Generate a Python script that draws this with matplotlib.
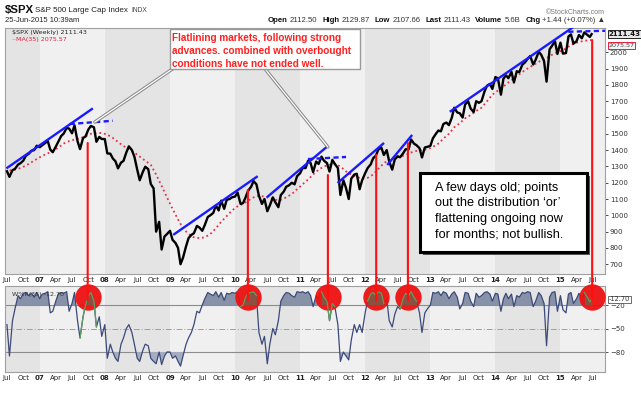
import matplotlib
matplotlib.use("Agg")
import matplotlib.dates as mdates
import matplotlib.pyplot as plt
import numpy as np
import pandas as pd
from matplotlib.patches import ConnectionPatch, Rectangle

W, H = 641, 395  # output size in pixels (dpi 100)

spx_2006 = [1270, 1236, 1277, 1285, 1311, 1320, 1336, 1365, 1378, 1396, 1400, 1427]
spx_2007 = [1418, 1430, 1445, 1456, 1403, 1387, 1421, 1452, 1486, 1501, 1536, 1532,
            1503, 1552, 1455, 1406, 1474, 1484, 1527, 1548, 1540, 1451, 1481, 1468]
spx_2008 = [1468, 1380, 1378, 1349, 1331, 1288, 1323, 1334, 1386, 1423, 1400, 1360,
            1280, 1215, 1265, 1298, 1283, 1192, 1165, 900, 960, 790, 870, 885]
spx_2009 = [905, 850, 830, 800, 700, 740, 810, 860, 880, 890, 935, 925,
            905, 940, 990, 1000, 1015, 1060, 1030, 1090, 1040, 1095, 1100, 1110]
spx_2010 = [1115, 1140, 1070, 1075, 1110, 1150, 1175, 1210, 1190, 1120, 1070, 1100,
            1025, 1060, 1110, 1080, 1050, 1125, 1145, 1175, 1185, 1200, 1190, 1240]
spx_2011 = [1258, 1290, 1290, 1335, 1320, 1265, 1330, 1315, 1360, 1335, 1320, 1268,
            1340, 1315, 1290, 1125, 1215, 1170, 1100, 1225, 1250, 1255, 1160, 1215]
spx_2012 = [1258, 1290, 1312, 1350, 1366, 1403, 1415, 1370, 1400, 1330, 1280, 1342,
            1362, 1356, 1380, 1405, 1406, 1465, 1440, 1430, 1412, 1355, 1416, 1420]
spx_2013 = [1426, 1472, 1500, 1520, 1515, 1560, 1569, 1553, 1598, 1660, 1631, 1626,
            1600, 1680, 1700, 1655, 1633, 1700, 1690, 1700, 1760, 1795, 1806, 1775]
spx_2014 = [1848, 1840, 1740, 1838, 1859, 1841, 1880, 1815, 1884, 1878, 1924, 1937,
            1960, 1977, 1925, 1955, 2003, 1985, 1946, 1820, 2018, 2040, 2068, 1990]
spx_2015 = [2059, 1992, 1995, 2097, 2110, 2053, 2068, 2106, 2086, 2122, 2107, 2094]
spx_last = 2111.43

# Williams %R(35), same sampling
wr_2006 = [-45, -85, -40, -25, -8, -12, -5, -4, -8, -5, -10, -4]
wr_2007 = [-12, -6, -5, -3, -30, -28, -15, -6, -4, -5, -3, -28,
           -18, -4, -40, -62, -35, -20, -8, -4, -15, -48, -35, -60]
wr_2008 = [-45, -88, -70, -80, -88, -92, -70, -62, -50, -45, -55, -70,
           -88, -92, -78, -70, -72, -88, -92, -95, -80, -96, -85, -80]
wr_2009 = [-80, -88, -85, -92, -98, -85, -70, -62, -55, -45, -28, -30,
           -20, -12, -4, -6, -8, -3, -10, -4, -14, -5, -6, -4]
wr_2010 = [-5, -3, -22, -20, -10, -5, -4, -3, -8, -55, -70, -60,
           -95, -70, -50, -58, -40, -15, -8, -4, -5, -8, -10, -3]
wr_2011 = [-4, -3, -5, -3, -8, -22, -8, -12, -3, -10, -15, -40,
           -18, -22, -45, -92, -80, -85, -90, -65, -45, -55, -45, -55]
wr_2012 = [-30, -15, -6, -4, -8, -3, -5, -18, -12, -40, -48, -32,
           -22, -25, -12, -5, -8, -3, -10, -15, -30, -55, -30, -25]
wr_2013 = [-20, -4, -5, -3, -8, -3, -5, -12, -6, -3, -10, -25,
           -18, -4, -5, -15, -22, -5, -10, -8, -4, -3, -6, -15]
wr_2014 = [-5, -6, -28, -12, -5, -12, -6, -22, -8, -10, -4, -5,
           -3, -4, -22, -15, -4, -8, -18, -72, -10, -4, -3, -28]
wr_2015 = [-8, -26, -30, -6, -4, -18, -12, -5, -12, -4, -10, -16]
wr_last = -12.70

# MA(35) read mid-month, Jul 2006 - Jun 2015
ma_2006 = [1275, 1280, 1290, 1305, 1325, 1345]
ma_2007 = [1365, 1380, 1395, 1415, 1440, 1455, 1465, 1472, 1485, 1500, 1505, 1505]
ma_2008 = [1495, 1475, 1450, 1425, 1405, 1385, 1360, 1335, 1310, 1250, 1180, 1110]
ma_2009 = [1040, 975, 920, 885, 865, 860, 865, 885, 920, 960, 995, 1030]
ma_2010 = [1055, 1070, 1090, 1110, 1120, 1115, 1105, 1095, 1095, 1110, 1130, 1160]
ma_2011 = [1190, 1220, 1250, 1280, 1300, 1310, 1315, 1300, 1270, 1250, 1235, 1225]
ma_2012 = [1230, 1250, 1285, 1320, 1340, 1350, 1360, 1370, 1385, 1395, 1400, 1405]
ma_2013 = [1420, 1440, 1470, 1500, 1540, 1565, 1595, 1615, 1640, 1660, 1700, 1740]
ma_2014 = [1765, 1790, 1815, 1840, 1865, 1890, 1910, 1930, 1950, 1965, 1985, 2000]
ma_2015 = [2012, 2035, 2052, 2063, 2071, 2074]
ma_last = 2075.57

# hand-drawn trend lines: (start date, start price, end date, end price)
trend_solid = [
    ("2006-06-28", 1288, "2007-10-26", 1656),
    ("2009-01-19", 880, "2010-05-08", 1240),
    ("2010-06-28", 1110, "2011-06-01", 1421),
    ("2011-07-30", 1198, "2012-04-16", 1444),
    ("2012-05-04", 1309, "2012-09-21", 1493),
    ("2013-04-20", 1635, "2015-03-14", 2155),
]
trend_flat = [
    ("2007-06-18", 1560, "2008-02-14", 1580),
    ("2011-02-14", 1345, "2011-09-16", 1358),
    ("2015-02-14", 2126, "2015-09-08", 2132),
]

# red signal markers: date, price where the line starts
signal_dates = ["2007-09-27", "2010-03-14", "2011-06-06", "2012-03-03", "2012-08-28", "2015-06-28"]
signal_tops = [1444, 1155, 1247, 1370, 1443, 2075]
signal_level = -10

callout_red = "Flatlining markets, following strong\nadvances. combined with overbought\nconditions have not ended well."
callout_tips = [("2007-11-06", 1572), ("2011-06-06", 1419)]
callout_black = "A few days old; points\nout the distribution \u2018or\u2019\nflattening ongoing now\nfor months; not bullish."

dates = pd.date_range("2006-07-01", "2015-06-15", freq="SMS").append(pd.DatetimeIndex(["2015-06-25"]))
spx = np.array(spx_2006 + spx_2007 + spx_2008 + spx_2009 + spx_2010 + spx_2011
               + spx_2012 + spx_2013 + spx_2014 + spx_2015 + [spx_last])
wr = np.array(wr_2006 + wr_2007 + wr_2008 + wr_2009 + wr_2010 + wr_2011
              + wr_2012 + wr_2013 + wr_2014 + wr_2015 + [wr_last], dtype=float)
ma_dates = (pd.date_range("2006-07-01", "2015-06-01", freq="MS") + pd.Timedelta(days=14)).append(
    pd.DatetimeIndex(["2015-06-25"]))
ma = np.array(ma_2006 + ma_2007 + ma_2008 + ma_2009 + ma_2010 + ma_2011
              + ma_2012 + ma_2013 + ma_2014 + ma_2015 + [ma_last])

x0, x1 = pd.Timestamp("2006-06-20"), pd.Timestamp("2015-09-08")
quarters = pd.date_range("2006-07-01", "2015-07-01", freq="QS-JAN")
qlabels = [d.strftime("%y") if d.month == 1 else d.strftime("%b") for d in quarters]

fig = plt.figure(figsize=(W / 100, H / 100), dpi=100)
fig.patch.set_facecolor("white")
ax = fig.add_axes([5 / W, 1 - 274 / H, 600 / W, 246 / H])
ax2 = fig.add_axes([5 / W, 1 - 372 / H, 600 / W, 86 / H])

for a in (ax, ax2):
    a.set_xlim(x0, x1)
    a.set_facecolor("#f0f0f0")
    for yr in range(2006, 2016, 2):
        a.axvspan(pd.Timestamp(f"{yr}-01-01"), pd.Timestamp(f"{yr + 1}-01-01"), color="#e4e4e4", lw=0, zorder=0)
    a.set_xticks(quarters)
    a.set_xticklabels(qlabels)
    for lbl, d in zip(a.get_xticklabels(), quarters):
        if d.month == 1:
            lbl.set_fontweight("bold")
    a.tick_params(axis="x", length=0, pad=2, labelsize=5, colors="#222222")
    a.yaxis.tick_right()
    a.tick_params(axis="y", length=2, width=0.6, pad=1.5, labelsize=5, colors="#333333")
    for s in a.spines.values():
        s.set_color("#a0a0a0")
        s.set_linewidth(0.8)

# ---- price panel
ax.set_ylim(640, 2149)
ax.set_yticks(range(700, 2001, 100))
ax.plot(ma_dates, ma, color="#e8304a", lw=1.3, ls=(0, (1, 1.6)), zorder=3)
ax.plot(dates, spx, color="black", lw=1.7, zorder=4)
for d0, p0, d1, p1 in trend_solid:
    ax.plot([pd.Timestamp(d0), pd.Timestamp(d1)], [p0, p1], color="#1a1aff", lw=1.7, zorder=5, solid_capstyle="butt")
for d0, p0, d1, p1 in trend_flat:
    ax.plot([pd.Timestamp(d0), pd.Timestamp(d1)], [p0, p1], color="#1a1aff", lw=1.7, ls=(0, (2.2, 1.4)),
            zorder=5, clip_on=False)

ax.text(0.012, 0.99, "$SPX (Weekly) 2111.43", transform=ax.transAxes, ha="left", va="top",
        fontsize=4.6, color="#222222", zorder=9)
ax.text(0.012, 0.962, "\u00b7\u00b7MA(35) 2075.57", transform=ax.transAxes, ha="left", va="top",
        fontsize=4.6, color="#e0203c", zorder=9)
tag_tr = ax.get_yaxis_transform()
ax.text(1.006, spx_last, f"{spx_last:.2f}", transform=tag_tr, ha="left", va="center", fontsize=5,
        fontweight="bold", color="#111111", zorder=10, clip_on=False,
        bbox=dict(boxstyle="square,pad=0.15", fc="#e8e8e8", ec="#222222", lw=0.7))
ax.text(1.006, ma_last - 35, f"{ma_last:.2f}", transform=tag_tr, ha="left", va="center", fontsize=4.6,
        color="#444444", zorder=10, clip_on=False,
        bbox=dict(boxstyle="square,pad=0.12", fc="#f4f4f4", ec="#e0203c", lw=0.7))

# callout 1
ax.add_patch(Rectangle((0.275, 0.833), 0.317, 0.163, transform=ax.transAxes, fc="white", ec="#9a9a9a",
                       lw=1.0, zorder=8, clip_on=False))
ax.text(0.279, 0.978, callout_red, transform=ax.transAxes, ha="left", va="top", fontsize=7.2,
        fontweight="bold", family="Liberation Sans", color="#ff2020", linespacing=1.35, zorder=9)
for (td, tp), bx in zip(callout_tips, [(0.28, 0.835), (0.433, 0.835)]):
    for col, lw in (("#8a8a8a", 2.4), ("white", 0.9)):
        ax.annotate("", xy=(pd.Timestamp(td), tp), xytext=bx, textcoords="axes fraction",
                    arrowprops=dict(arrowstyle="-", color=col, lw=lw, shrinkA=0, shrinkB=0), zorder=7)

# callout 2 with shadow
ax.add_patch(Rectangle((0.697, 0.077), 0.278, 0.321, transform=ax.transAxes, fc="#555555", ec="none",
                       zorder=8))
ax.add_patch(Rectangle((0.692, 0.089), 0.278, 0.321, transform=ax.transAxes, fc="white", ec="black",
                       lw=2.2, zorder=8))
ax.text(0.717, 0.376, callout_black, transform=ax.transAxes, ha="left", va="top", fontsize=9.2,
        family="Liberation Sans", color="black", linespacing=1.42, zorder=9)

# ---- Williams %R panel
ax2.set_ylim(-105.5, 4.3)
ax2.set_yticks([-20, -50, -80])
ax2.fill_between(dates, wr, -20, where=wr > -20, interpolate=True, color="#8791a8", lw=0, zorder=2)
ax2.fill_between(dates, wr, -80, where=wr < -80, interpolate=True, color="#a4acbf", lw=0, zorder=2)
ax2.axhline(-20, color="#8c8c8c", lw=0.8, zorder=1)
ax2.axhline(-80, color="#8c8c8c", lw=0.8, zorder=1)
ax2.axhline(-50, color="#a0a0a0", lw=0.7, ls=(0, (6, 2, 1, 2)), zorder=1)
ax2.plot(dates, wr, color="#3c4a7a", lw=0.9, zorder=3)
ax2.text(0.012, 0.93, "W%R(35) -12.70", transform=ax2.transAxes, ha="left", va="top", fontsize=4.6,
         color="#333333", zorder=9)
ax2.text(1.006, wr_last, f"{wr_last:.2f}", transform=ax2.get_yaxis_transform(), ha="left", va="center",
         fontsize=4.8, color="#333333", zorder=10, clip_on=False,
         bbox=dict(boxstyle="square,pad=0.12", fc="white", ec="#555555", lw=0.6))

sig = pd.to_datetime(signal_dates)
ax2.plot(sig, [signal_level] * len(sig), "o", ms=19, color="#ee1111", mec="none", alpha=0.95,
         zorder=4, clip_on=False)
for d in sig:
    near = np.abs((dates - d).days) <= 50
    ax2.fill_between(dates[near], wr[near], -20, where=wr[near] > -20, interpolate=True,
                     color="#8a5040", lw=0, zorder=5)
    ax2.plot(dates[near], wr[near], color="#5f9f5f", lw=0.9, zorder=6)

for d, top in zip(sig, signal_tops):
    xd = mdates.date2num(d)
    con = ConnectionPatch(xyA=(xd, top), coordsA=ax.transData, xyB=(xd, signal_level - 4),
                          coordsB=ax2.transData, color="#ff1010", lw=1.5, zorder=3)
    fig.add_artist(con)

# ---- header
hdr = "Liberation Sans"
renderer = fig.canvas.get_renderer()
fig.text(5 / W, 1 - 10 / H, "$SPX", fontsize=8.2, fontweight="bold", family=hdr, color="#111111", va="center")
t = fig.text(35 / W, 1 - 10 / H, "S&P 500 Large Cap Index", fontsize=5.8, family=hdr, color="#222222",
             va="center")
fig.text((t.get_window_extent(renderer).x1 + 4) / W, 1 - 10 / H, "INDX", fontsize=4.8, family=hdr,
         color="#444444", va="center")
fig.text(5 / W, 1 - 21 / H, "25-Jun-2015 10:39am", fontsize=5.5, family=hdr, color="#222222", va="center")
fig.text(605 / W, 1 - 12 / H, "\u00a9StockCharts.com", fontsize=5, family=hdr, color="#777777", va="center",
         ha="right")

header_items = [("Open", "2112.50"), ("High", "2129.87"), ("Low", "2107.66"), ("Last", "2111.43"),
                ("Volume", "5.6B"), ("Chg", "+1.44 (+0.07%) \u25b2")]
xp = 268
for name, val in header_items:
    t = fig.text(xp / W, 1 - 21 / H, name, fontsize=5.6, fontweight="bold", family=hdr, color="#111111",
                 va="center")
    xp = t.get_window_extent(renderer).x1 + 2
    t = fig.text(xp / W, 1 - 21 / H, val, fontsize=5.6, family=hdr, color="#333333", va="center")
    xp = t.get_window_extent(renderer).x1 + 5

fig.savefig("out.png", dpi=100)
